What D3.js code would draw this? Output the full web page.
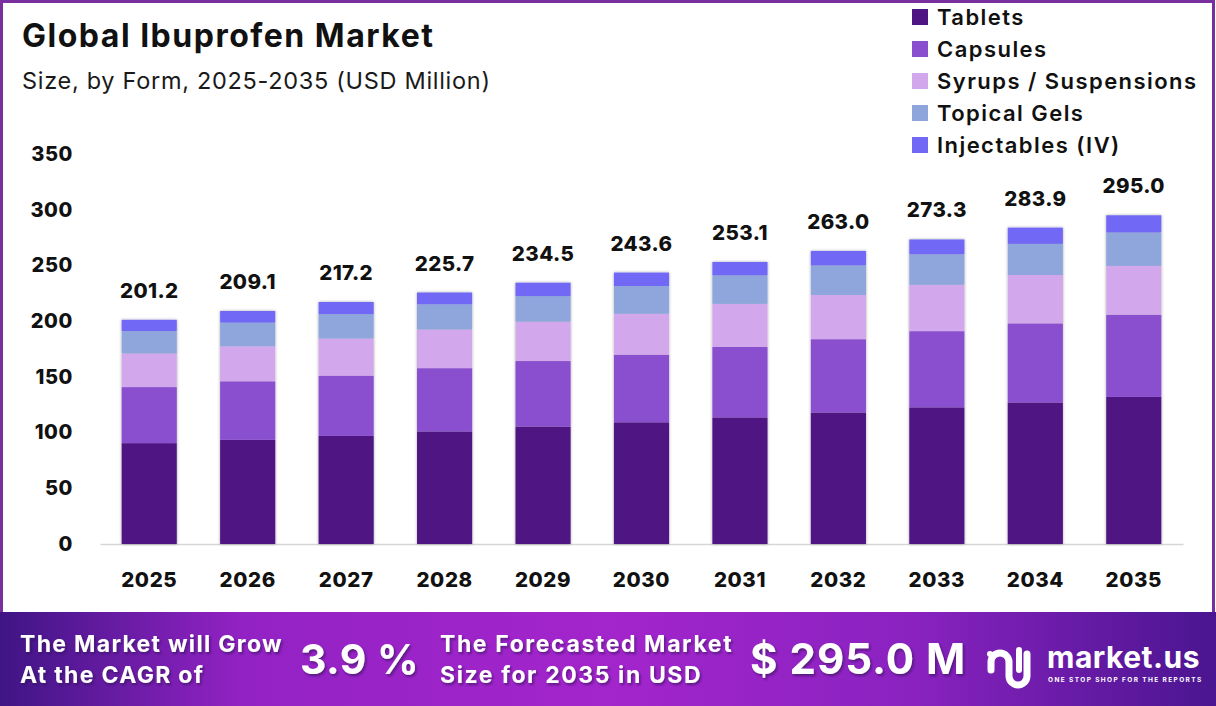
<!DOCTYPE html>
<html>
<head>
<meta charset="utf-8">
<script src="https://cdn.jsdelivr.net/npm/d3@7/dist/d3.min.js"></script>
<style>
  body { margin: 0; background: #fff; }
  svg { display: block; font-family: Inter, "Noto Sans", sans-serif; }
</style>
</head>
<body>
<script>
var width = 1216
var height = 706

// data
var years = ["2025", "2026", "2027", "2028", "2029", "2030", "2031", "2032", "2033", "2034", "2035"]
var forms = ["Tablets", "Capsules", "Syrups / Suspensions", "Topical Gels", "Injectables (IV)"]
var tablets     = [90.5, 93.5, 97.0, 101.0, 105.4, 109.2, 113.6, 118.0, 122.6, 127.0, 132.0]
var capsules    = [50.3, 52.5, 54.1, 56.8, 58.8, 60.7, 63.3, 65.8, 68.4, 71.0, 73.8]
var syrups      = [30.2, 31.4, 33.3, 34.7, 35.3, 36.7, 38.6, 39.7, 41.6, 43.4, 43.8]
var topical     = [20.1, 21.3, 21.9, 22.6, 23.0, 24.9, 25.6, 26.5, 27.4, 28.0, 30.0]
var injectables = [10.1, 10.4, 10.9, 10.6, 12.0, 12.1, 12.0, 13.0, 13.3, 14.5, 15.4]
var totals = [201.2, 209.1, 217.2, 225.7, 234.5, 243.6, 253.1, 263.0, 273.3, 283.9, 295.0]
var yTicks = [0, 50, 100, 150, 200, 250, 300, 350]

var colors = ["#4f1683", "#8a4fcf", "#d3a7eb", "#8ea6dc", "#7168f5"]

var svg = d3.select("body")
  .append("svg")
  .attr("width", width)
  .attr("height", height)

var defs = svg.append("defs")

var shadow = defs.append("filter").attr("id", "shadow")
  .attr("x", "-20%").attr("y", "-20%").attr("width", "140%").attr("height", "140%")
shadow.append("feDropShadow")
  .attr("dx", 0).attr("dy", 0).attr("stdDeviation", 1.6)
  .attr("flood-color", "#000").attr("flood-opacity", 0.35)

var textShadow = defs.append("filter").attr("id", "tshadow")
textShadow.append("feDropShadow")
  .attr("dx", 1.5).attr("dy", 2).attr("stdDeviation", 1.2)
  .attr("flood-color", "#2a0a50").attr("flood-opacity", 0.6)

var grad = defs.append("linearGradient").attr("id", "footer")
grad.append("stop").attr("offset", "0%").attr("stop-color", "#3f1585")
grad.append("stop").attr("offset", "20%").attr("stop-color", "#9322c4")
grad.append("stop").attr("offset", "50%").attr("stop-color", "#a325cc")
grad.append("stop").attr("offset", "75%").attr("stop-color", "#8a22c0")
grad.append("stop").attr("offset", "100%").attr("stop-color", "#4a1590")

// frame
svg.append("rect")
  .attr("x", 1.5).attr("y", 1.5)
  .attr("width", width - 4).attr("height", 620)
  .attr("fill", "#fff")
  .attr("stroke", "#7a2f9e")
  .attr("stroke-width", 3)

// titles
svg.append("text")
  .attr("x", 22).attr("y", 47)
  .attr("font-size", 32).attr("font-weight", 700)
  .attr("letter-spacing", 1.5)
  .attr("fill", "#111")
  .text("Global Ibuprofen Market")

svg.append("text")
  .attr("x", 22).attr("y", 89)
  .attr("font-size", 23.5)
  .attr("letter-spacing", 0.7)
  .attr("fill", "#1a1a1a")
  .text("Size, by Form, 2025-2035 (USD Million)")

// scales
var x = d3.scaleBand()
  .domain(years)
  .range([100, 1183])
  .paddingInner(0.44)
  .paddingOuter(0.22)

var y = d3.scaleLinear()
  .domain([0, 350])
  .range([544, 154])

var series = [tablets, capsules, syrups, topical, injectables]
var rows = years.map(function(yr, i) {
  var r = { year: yr }
  forms.forEach(function(f, k) { r[f] = series[k][i] })
  return r
})
var stacked = d3.stack().keys(forms)(rows)

// axes
var yAxis = svg.append("g")
  .attr("transform", "translate(73,0)")
  .call(d3.axisLeft(y).tickValues(yTicks).tickSize(0).tickPadding(0))
yAxis.select(".domain").remove()
yAxis.selectAll("text")
  .attr("font-size", 20).attr("font-weight", 800)
  .attr("letter-spacing", 0.6)
  .attr("fill", "#111")
  .attr("font-family", "Inter, sans-serif")

var xAxis = svg.append("g")
  .attr("transform", "translate(0,544)")
  .call(d3.axisBottom(x).tickSize(0).tickPadding(28))
xAxis.select(".domain").attr("stroke", "#d6d6d6").attr("stroke-width", 1.5)
xAxis.selectAll("text")
  .attr("font-size", 20.5).attr("font-weight", 800)
  .attr("letter-spacing", 0.6)
  .attr("fill", "#111")
  .attr("font-family", "Inter, sans-serif")

// bars
var barG = svg.append("g").attr("filter", "url(#shadow)")
barG.selectAll("g.layer")
  .data(stacked)
  .enter()
  .append("g")
  .attr("class", "layer")
  .attr("fill", function(d, i) { return colors[i] })
  .selectAll("rect")
  .data(function(d) { return d })
  .enter()
  .append("rect")
  .attr("x", function(d) { return x(d.data.year) })
  .attr("width", x.bandwidth())
  .attr("y", function(d) { return y(d[1]) })
  .attr("height", function(d) { return y(d[0]) - y(d[1]) })

// total labels
svg.selectAll("text.total")
  .data(totals)
  .enter()
  .append("text")
  .attr("class", "total")
  .attr("x", function(d, i) { return x(years[i]) + x.bandwidth() / 2 })
  .attr("y", function(d) { return y(d) - 22 })
  .attr("text-anchor", "middle")
  .attr("font-size", 20.5).attr("font-weight", 800)
  .attr("letter-spacing", 0.4)
  .attr("fill", "#111")
  .text(function(d) { return d.toFixed(1) })

// legend
var legend = svg.append("g")
legend.selectAll("g")
  .data(forms)
  .enter()
  .append("g")
  .attr("transform", function(d, i) { return "translate(912," + (9 + i * 32) + ")" })
  .each(function(d, i) {
    var g = d3.select(this)
    g.append("rect").attr("width", 16).attr("height", 16).attr("fill", colors[i])
    g.append("text")
      .attr("x", 25).attr("y", 16)
      .attr("font-size", 22).attr("font-weight", 600)
      .attr("letter-spacing", 1.45)
      .attr("fill", "#111")
      .text(d)
  })

// footer band
svg.append("rect")
  .attr("x", 0).attr("y", 612)
  .attr("width", width).attr("height", height - 612)
  .attr("fill", "url(#footer)")

var foot = svg.append("g").attr("fill", "#fff").attr("font-weight", 700).attr("filter", "url(#tshadow)")
foot.append("text").attr("x", 20).attr("y", 652).attr("font-size", 23).attr("letter-spacing", 1.3).text("The Market will Grow")
foot.append("text").attr("x", 20).attr("y", 683).attr("font-size", 23).attr("letter-spacing", 1.3).text("At the CAGR of")
foot.append("text").attr("x", 300).attr("y", 674).attr("font-size", 41).attr("letter-spacing", 0.5).text("3.9 %")
foot.append("text").attr("x", 440).attr("y", 652).attr("font-size", 23).attr("letter-spacing", 1.6).text("The Forecasted Market")
foot.append("text").attr("x", 440).attr("y", 683).attr("font-size", 23).attr("letter-spacing", 1.6).text("Size for 2035 in USD")
foot.append("text").attr("x", 750).attr("y", 674).attr("font-size", 42).attr("letter-spacing", 1).text("$ 295.0 M")

// logo
var logo = svg.append("g").attr("transform", "translate(987,640)")
logo.append("path")
  .attr("d", "M4,30 L4,22 A9,9 0 0 1 22,22 L22,36 A9,9 0 0 0 40,36 L40,14")
  .attr("fill", "none").attr("stroke", "#fff").attr("stroke-width", 7).attr("stroke-linecap", "round")
logo.append("line")
  .attr("x1", 32).attr("y1", 10).attr("x2", 32).attr("y2", 30)
  .attr("stroke", "#fff").attr("stroke-width", 6).attr("stroke-linecap", "round")
logo.append("circle").attr("cx", 3).attr("cy", 14).attr("r", 3).attr("fill", "#fff")
svg.append("text")
  .attr("x", 1047).attr("y", 668)
  .attr("font-size", 30).attr("font-weight", 700)
  .attr("letter-spacing", 0.5)
  .attr("fill", "#fff")
  .text("market.us")
svg.append("text")
  .attr("x", 1048).attr("y", 682)
  .attr("font-size", 6.5).attr("font-weight", 700)
  .attr("letter-spacing", 1.4)
  .attr("fill", "#fff")
  .text("ONE STOP SHOP FOR THE REPORTS")
</script>
</body>
</html>
